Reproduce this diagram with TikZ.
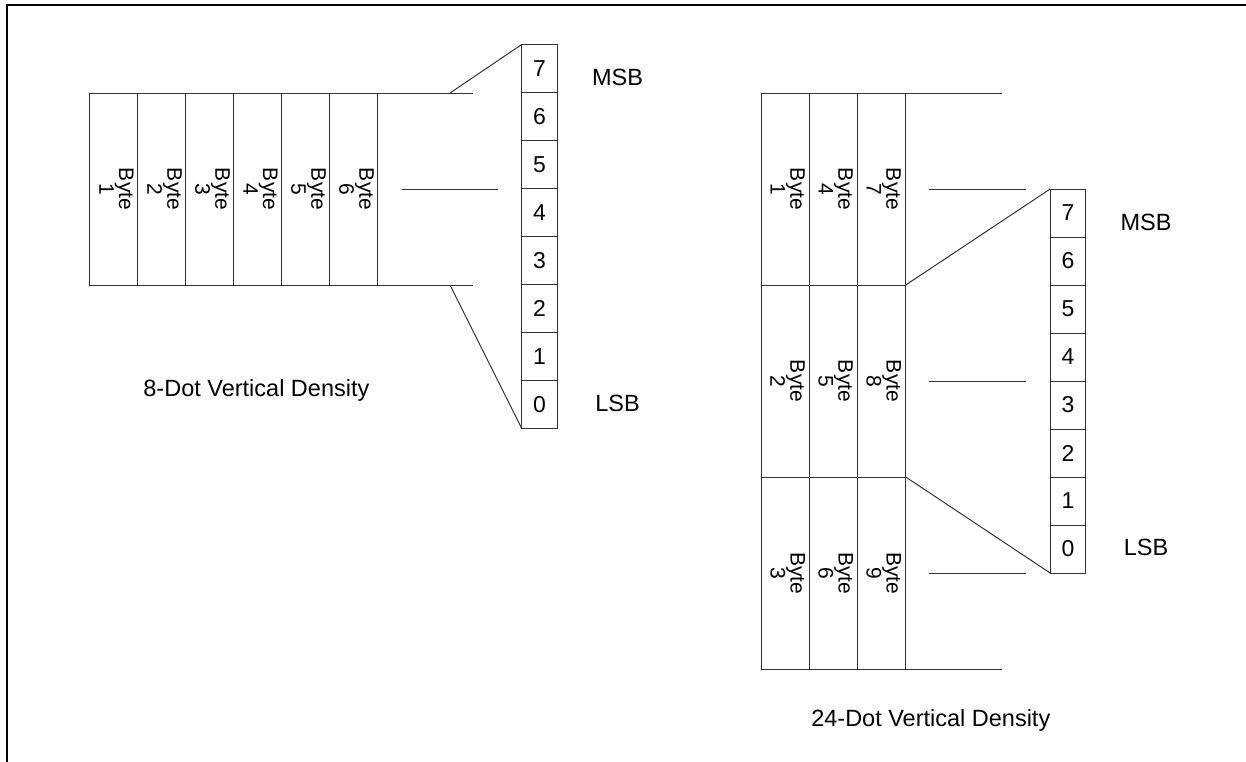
\documentclass[tikz,border=0pt]{standalone}
\usepackage{fontspec}
\setmainfont{Liberation Sans}
\begin{document}
\begin{tikzpicture}[x=1pt,y=-1pt,
  ln/.style={line width=1pt, draw=black!80},
  cell/.style={draw=black!80, line width=1pt, minimum width=48pt, minimum height=192pt, inner sep=0pt, outer sep=0pt},
  bit/.style={draw=black!80, line width=1pt, minimum width=35.6pt, minimum height=48pt, inner sep=0pt, outer sep=0pt, font=\fontsize{23}{27}\selectfont},
  bytelbl/.style={rotate=-90, align=center, font=\fontsize{21}{18}\selectfont, inner sep=0pt},
  lbl/.style={font=\fontsize{23.5}{28}\selectfont, inner sep=0pt, anchor=base},
]
\useasboundingbox (0,0) rectangle (1246,761);
% frame
\draw[line width=2.5pt] (7,775) -- (7,5) -- (1260,5);

% ---------- left: 8-dot ----------
\foreach \i in {1,...,6} {
  \node[cell] (L\i) at ({113.5+48*(\i-1)},189) {};
  \node[bytelbl] (LB\i) at ([xshift=3pt]L\i.center) {Byte\\\i};
}
\foreach \b in {0,...,7}
  \node[bit] (Lb\b) at (539.5,{68.5+48*(7-\b)}) {\b};

\coordinate (LTe) at (473,93);
\coordinate (LBe) at (473,285);
\coordinate (LTd) at (450,93);
\coordinate (LBd) at (450,285);
\coordinate (LMa) at (401.7,189);
\coordinate (LMb) at (497.7,189);
\draw[ln] (L1.north west) -- (LTe);
\draw[ln] (L1.south west) -- (LBe);
\draw[ln] (LTd) -- (Lb7.north west);
\draw[ln] (LBd) -- (Lb0.south west);
\draw[ln] (LMa) -- (LMb);

\node[lbl] (LMSB) at (617.5,85) {MSB};
\node[lbl] (LLSB) at (617.5,411) {LSB};
\node[lbl] (Ltitle) at (256.4,396.7) {8-Dot Vertical Density};

% ---------- right: 24-dot ----------
\foreach \c in {1,2,3} {
  \foreach \r in {1,2,3} {
    \pgfmathtruncatemacro{\n}{3*(\c-1)+\r}
    \node[cell] (R\c\r) at ({785.7+48*(\c-1)},{189+192*(\r-1)}) {};
    \node[bytelbl] (RB\c\r) at ([xshift=2pt]R\c\r.center) {Byte\\\n};
  }
}
\foreach \b in {0,...,7}
  \node[bit] (Rb\b) at (1068,{213+48*(7-\b)}) {\b};

\coordinate (RTe) at (1001.7,93);
\coordinate (RBe) at (1001.7,669);
\draw[ln] (R11.north west) -- (RTe);
\draw[ln] (R13.south west) -- (RBe);
\foreach \y [count=\k] in {189,381,573} {
  \coordinate (RMa\k) at (929.3,\y);
  \coordinate (RMb\k) at (1026,\y);
  \draw[ln] (RMa\k) -- (RMb\k);
}
\draw[ln] (R31.south east) -- (Rb7.north west);
\draw[ln] (R32.south east) -- (Rb0.south west);

\node[lbl] (RMSB) at (1146,230) {MSB};
\node[lbl] (RLSB) at (1146,555) {LSB};
\node[lbl] (Rtitle) at (930.8,726.7) {24-Dot Vertical Density};
\end{tikzpicture}
\end{document}
